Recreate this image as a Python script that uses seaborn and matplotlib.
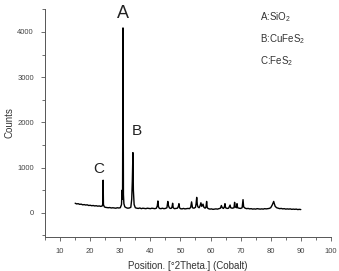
import numpy as np
import pandas as pd
import matplotlib
matplotlib.use('Agg')
import matplotlib.pyplot as plt
from matplotlib.ticker import MultipleLocator
import seaborn as sns

# XRD pattern (Cobalt radiation)
two_theta = [15.0, 15.5, 16.0, 16.5, 17.0, 17.5, 18.0, 18.5, 19.0, 19.5,
             20.0, 20.5, 21.0, 21.5, 22.0, 22.5, 23.0, 23.5, 24.0, 24.2,
             24.3, 24.4, 24.7, 25.0, 25.5, 26.0, 26.5, 27.0, 27.5, 28.0,
             28.5, 29.0, 29.5, 30.0, 30.4, 30.6, 30.75, 30.9, 31.05, 31.2,
             31.5, 32.0, 32.5, 33.0, 33.5, 33.8, 34.0, 34.2, 34.35, 34.6,
             35.0, 35.5, 36.0, 36.5, 37.0, 37.5, 38.0, 38.5, 39.0, 39.5,
             40.0, 40.5, 41.0, 41.5, 42.0, 42.3, 42.5, 42.7, 43.0, 43.5,
             44.0, 44.5, 45.0, 45.5, 45.8, 46.0, 46.3, 46.6, 47.0, 47.2,
             47.4, 47.6, 48.0, 48.5, 49.0, 49.3, 49.5, 49.7, 50.0, 50.5,
             51.0, 51.5, 52.0, 52.5, 53.0, 53.4, 53.7, 54.0, 54.5, 55.0,
             55.2, 55.4, 55.6, 55.8, 56.2, 56.5, 56.8, 57.1, 57.5, 57.8,
             58.2, 58.5, 58.7, 58.9, 59.3, 59.8, 60.3, 60.8, 61.3, 61.8,
             62.3, 62.8, 63.3, 63.6, 63.9, 64.3, 64.6, 64.8, 65.0, 65.5,
             66.0, 66.3, 66.5, 66.7, 67.2, 67.8, 68.0, 68.2, 68.6, 68.8,
             69.0, 69.5, 70.0, 70.5, 70.8, 71.0, 71.5, 72.0, 72.5, 73.0,
             73.5, 74.0, 74.5, 75.0, 75.5, 76.0, 76.5, 77.0, 77.5, 78.0,
             78.5, 79.0, 79.5, 80.0, 80.5, 80.8, 81.0, 81.2, 81.5, 82.0,
             82.5, 83.0, 83.5, 84.0, 84.5, 85.0, 85.5, 86.0, 86.5, 87.0,
             87.5, 88.0, 88.5, 89.0, 89.5, 90.0]
counts = [210, 195, 200, 185, 190, 175, 180, 170, 175, 160,
          165, 155, 160, 150, 155, 145, 150, 140, 150, 200,
          720, 180, 130, 120, 115, 110, 115, 105, 110, 105,
          100, 110, 105, 110, 180, 500, 300, 4090, 400, 200,
          130, 110, 100, 105, 120, 300, 700, 1330, 500, 180,
          110, 100, 95, 105, 90, 100, 95, 90, 100, 95,
          90, 100, 95, 90, 100, 150, 260, 130, 95, 90,
          100, 90, 95, 110, 250, 160, 110, 95, 100, 130,
          210, 110, 90, 95, 100, 140, 200, 110, 90, 85,
          95, 85, 90, 95, 90, 120, 240, 110, 100, 120,
          200, 340, 180, 130, 110, 150, 220, 140, 190, 120,
          100, 130, 250, 110, 90, 80, 85, 75, 80, 85,
          80, 90, 100, 160, 110, 95, 130, 200, 110, 95,
          100, 140, 170, 110, 100, 110, 230, 130, 110, 200,
          110, 100, 95, 110, 290, 130, 100, 90, 95, 85,
          90, 80, 85, 80, 90, 85, 80, 85, 80, 90,
          85, 90, 95, 110, 170, 220, 250, 200, 140, 110,
          100, 90, 95, 85, 90, 80, 85, 80, 85, 75,
          80, 75, 80, 70, 75, 70]

peak_labels = ['A', 'B', 'C']
peak_pos = [(30.9, 4220), (35.6, 1650), (23.0, 820)]
peak_sizes = [13, 11, 11]
phase_text = ['A:SiO$_2$', 'B:CuFeS$_2$', 'C:FeS$_2$']

df = pd.DataFrame({'two_theta': two_theta, 'counts': counts})

sns.set_style('ticks')
plt.rcParams['font.family'] = ['Liberation Sans', 'DejaVu Sans']
plt.rcParams['mathtext.fontset'] = 'custom'
plt.rcParams['mathtext.rm'] = 'Liberation Sans'

fig = plt.figure(figsize=(3.39, 2.71), dpi=100)
ax = fig.add_axes([0.133, 0.125, 0.843, 0.842])

sns.lineplot(data=df, x='two_theta', y='counts', color='black', lw=1.0, ax=ax)

ax.set_xlim(5, 100)
ax.set_ylim(-540, 4510)
ax.xaxis.set_minor_locator(MultipleLocator(5))
ax.yaxis.set_minor_locator(MultipleLocator(500))
ax.set_xticks(range(10, 101, 10))
ax.set_yticks([0, 1000, 2000, 3000, 4000])
ax.tick_params(which='major', direction='out', length=3, width=0.6,
               labelsize=5.5, labelcolor='#444444', color='#555555', pad=5)
ax.tick_params(which='minor', direction='out', length=2, width=0.6, color='#555555')
for s in ['left', 'bottom']:
    ax.spines[s].set_color('#555555')
    ax.spines[s].set_linewidth(0.7)
sns.despine(ax=ax)

ax.set_xlabel('Position. [°2Theta.] (Cobalt)', fontsize=7, color='#333333')
ax.set_ylabel('Counts', fontsize=7, color='#333333')
ax.xaxis.set_label_coords(0.5, -0.105)
ax.yaxis.set_label_coords(-0.108, 0.5)

for lab, (px, py), fs in zip(peak_labels, peak_pos, peak_sizes):
    ax.text(px, py, lab, fontsize=fs, ha='center', va='bottom', color='#222222')

for i, t in enumerate(phase_text):
    fig.text(0.767, 1 - (17 + 22 * i) / 271, t, fontsize=7, ha='left', va='center',
             color='#333333')

fig.savefig('out.png', dpi=100)
